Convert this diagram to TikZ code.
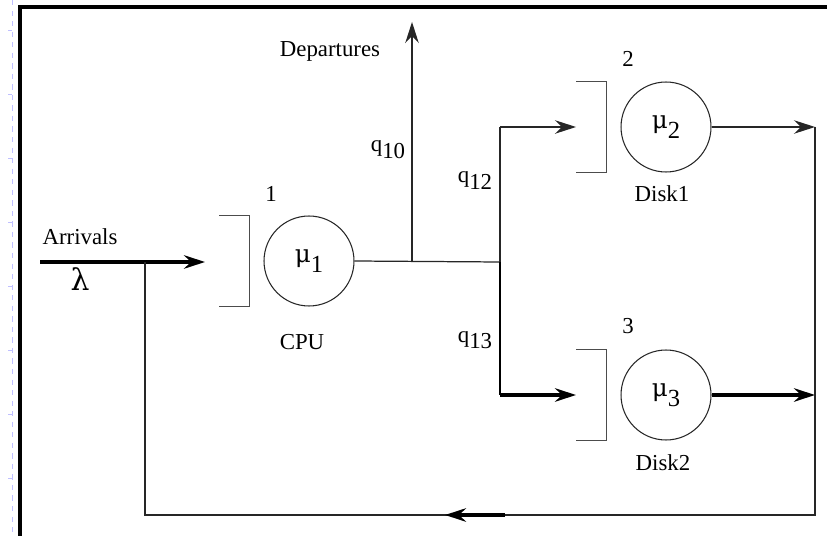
\documentclass[tikz,border=0pt]{standalone}
\usepackage{fontspec}
\setmainfont{Liberation Serif}
\newfontfamily\greekfont{DejaVu Serif}
\usetikzlibrary{arrows.meta,positioning}
\tikzset{
  wire/.style={line width=0.7pt,draw=black!85},
  heavywire/.style={line width=1.8pt,draw=black},
  arr/.style={-{Stealth[length=4.2mm,width=2.7mm,inset=1.4mm]}},
  server/.style={circle,draw=black!85,line width=0.6pt,minimum size=1.8cm,inner sep=0pt,font=\fontsize{14}{16}\selectfont},
  queuebox/.style={line width=0.7pt,draw=black!70},
  lbl/.style={font=\fontsize{13}{15}\selectfont,inner sep=0pt,anchor=base}
}
\newcommand{\lowsub}[2]{#1\raisebox{-0.6ex}{#2}}
\newcommand{\rate}[1]{{\greekfont μ}\raisebox{-0.9ex}{#1}}

\begin{document}
\begin{tikzpicture}[x=0.02cm,y=-0.02cm]

  \useasboundingbox (0,0) rectangle (827,536);
  \fill[white] (0,0) rectangle (827,536);

  % slide ruler on the left
  \draw[blue!25,dashed,line width=0.4pt] (12,0) -- (12,536);
  \foreach \y in {30,94,158,222,286,350,414,478}{
    \draw[blue!25,line width=0.4pt] (8,\y) -- (12,\y);
  }

  % frame
  \draw[line width=1.8pt] (20,536) -- (20,7) -- (827,7);

  % servers
  \node[server] (cpu) at (309,261) {\rate{1}};
  \node[server] (disk1) at (666,127) {\rate{2}};
  \node[server] (disk2) at (666,395) {\rate{3}};

  \foreach \s in {cpu,disk1,disk2}{
    \draw[queuebox] ([xshift=-1.8cm]\s.north) -- ([xshift=-1.19cm]\s.north)
      -- ([xshift=-1.19cm]\s.south) -- ([xshift=-1.8cm]\s.south);
  }

  \node[lbl] (num1) at (271,202) {1};
  \node[lbl] (num2) at (628,67) {2};
  \node[lbl] (num3) at (628,334) {3};

  \node[lbl] (cpulbl) at (302,350) {CPU};
  \node[lbl] (d1lbl) at (662,202) {Disk1};
  \node[lbl] (d2lbl) at (663,470) {Disk2};

  \node[lbl] (arrlbl) at (80,245) {Arrivals};
  \node[lbl,font=\fontsize{17}{19}\selectfont\greekfont] (lam) at (80,291) {λ};
  \node[lbl] (deplbl) at (330,57) {Departures};

  \node[lbl] (q10) at (388,152) {\lowsub{q}{10}};
  \node[lbl] (q12) at (475,183) {\lowsub{q}{12}};
  \node[lbl] (q13) at (475,342) {\lowsub{q}{13}};

  % routing points
  \coordinate (src) at (40,262);
  \coordinate (cpuin) at (205,262);
  \coordinate (fbjoin) at (145,262);
  \coordinate (depfork) at (412,262);
  \coordinate (deptop) at (412,22);
  \coordinate (split) at (500,262);
  \coordinate (uptop) at (500,127);
  \coordinate (lowbot) at (500,395);
  \coordinate (d1in) at (576,127);
  \coordinate (d2in) at (576,395);
  \coordinate (d1out) at (815,127);
  \coordinate (d2out) at (815,395);
  \coordinate (fbcorner) at (815,515);
  \coordinate (fbleft) at (145,515);
  \coordinate (fbarrA) at (505,515);
  \coordinate (fbarrB) at (445,515);

  % arrivals
  \draw[heavywire,arr] (src) -- (cpuin);

  % cpu out and departures
  \draw[wire] (cpu.east) -- (split);
  \draw[wire,arr] (depfork) -- (deptop);

  % branches to disks
  \draw[wire] (split) -- (uptop);
  \draw[wire,arr] (uptop) -- (d1in);
  \draw[heavywire,line width=1.2pt] (split) -- (lowbot);
  \draw[heavywire,arr] (lowbot) -- (d2in);

  % disk outputs
  \draw[wire,arr] (disk1.east) -- (d1out);
  \draw[heavywire,arr] (disk2.east) -- (d2out);

  % feedback loop
  \draw[wire] (d1out) -- (fbcorner) -- (fbleft) -- (fbjoin);
  \draw[heavywire,arr] (fbarrA) -- (fbarrB);

\end{tikzpicture}
\end{document}
